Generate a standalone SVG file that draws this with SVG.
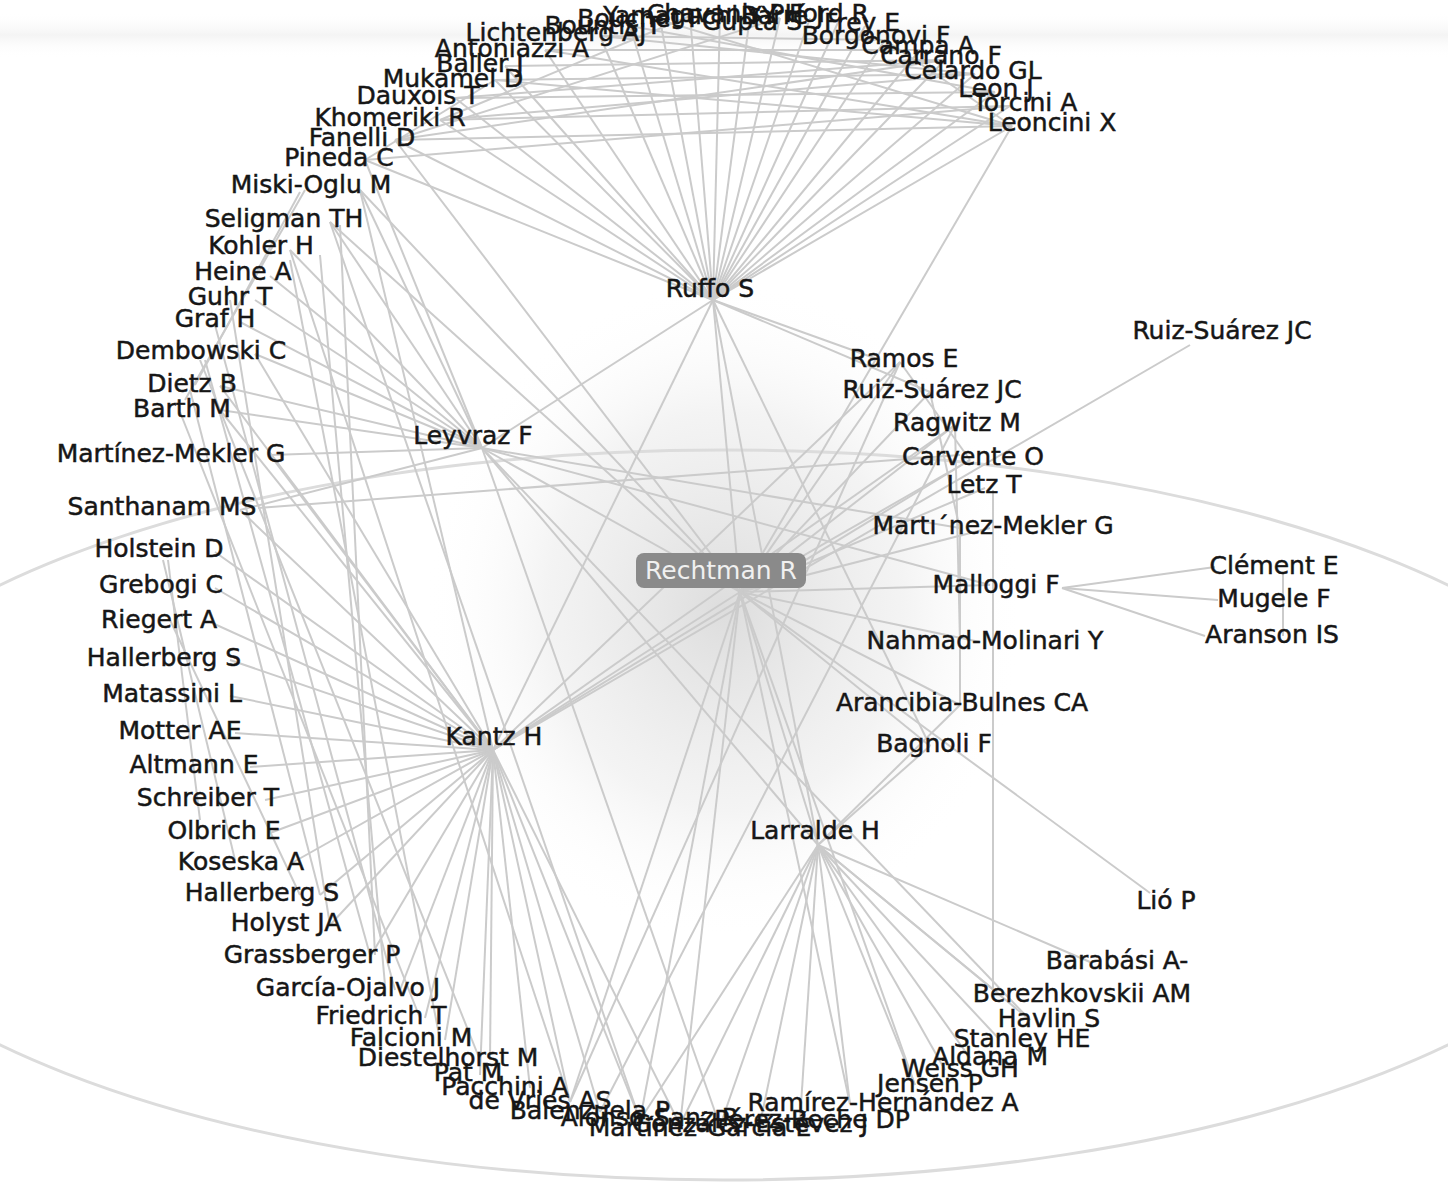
<svg xmlns="http://www.w3.org/2000/svg" width="1448" height="1185" viewBox="0 0 1448 1185">
<defs>
<radialGradient id="glow" cx="0.5" cy="0.5" r="0.5">
<stop offset="0" stop-color="#d9d9d9" stop-opacity="0.9"/>
<stop offset="0.6" stop-color="#ececec" stop-opacity="0.6"/>
<stop offset="1" stop-color="#ffffff" stop-opacity="0"/>
</radialGradient>
<linearGradient id="band" x1="0" y1="0" x2="0" y2="1">
<stop offset="0" stop-color="#ffffff" stop-opacity="0"/>
<stop offset="0.5" stop-color="#f4f4f4" stop-opacity="1"/>
<stop offset="1" stop-color="#ffffff" stop-opacity="0"/>
</linearGradient>
</defs>
<style>
.e path{stroke:#cbcbcb;stroke-width:2;fill:none}
.lbl{font-family:"DejaVu Sans","Liberation Sans",sans-serif;font-size:25px;fill:#161616;stroke:#161616;stroke-width:0.5;text-anchor:middle}
.hub{font-family:"DejaVu Sans","Liberation Sans",sans-serif;font-size:25px;fill:#f0f0f0;text-anchor:middle}
</style>
<rect width="1448" height="1185" fill="#ffffff"/>
<rect x="0" y="12" width="1448" height="46" fill="url(#band)"/>
<ellipse cx="725" cy="610" rx="300" ry="330" fill="url(#glow)"/>
<ellipse cx="724" cy="815" rx="932" ry="365" fill="none" stroke="#dcdcdc" stroke-width="3"/>
<g id="connectors" class="e">
<path d="M713 300L365 160"/><path d="M713 300L395 140"/><path d="M713 300L440 120"/><path d="M713 300L455 98"/>
<path d="M713 300L495 80"/><path d="M713 300L505 66"/><path d="M713 300L545 50"/><path d="M713 300L600 36"/>
<path d="M713 300L630 26"/><path d="M713 300L660 20"/><path d="M713 300L690 16"/><path d="M713 300L720 14"/>
<path d="M713 300L750 16"/><path d="M713 300L780 18"/><path d="M713 300L810 18"/><path d="M713 300L840 18"/>
<path d="M713 300L865 26"/><path d="M713 300L885 40"/><path d="M713 300L920 50"/><path d="M713 300L945 60"/>
<path d="M713 300L975 74"/><path d="M713 300L995 92"/><path d="M713 300L1010 106"/><path d="M713 300L1012 126"/>
<path d="M395 140L1012 126"/><path d="M440 120L1010 106"/><path d="M455 98L995 92"/><path d="M495 80L975 74"/>
<path d="M505 66L945 60"/><path d="M545 50L920 50"/><path d="M600 36L885 40"/><path d="M440 120L975 74"/>
<path d="M395 140L945 60"/><path d="M495 80L1012 126"/><path d="M455 98L945 60"/><path d="M545 50L1012 126"/>
<path d="M395 140L780 18"/><path d="M440 120L690 16"/><path d="M1012 126L660 20"/><path d="M975 74L600 36"/>
<path d="M365 160L1010 106"/><path d="M365 160L495 80"/><path d="M885 40L1012 126"/><path d="M630 26L995 92"/>
<path d="M482 448L360 190"/><path d="M482 448L330 222"/><path d="M482 448L290 250"/><path d="M482 448L270 276"/>
<path d="M482 448L255 300"/><path d="M482 448L240 322"/><path d="M482 448L255 354"/><path d="M482 448L220 386"/>
<path d="M482 448L220 410"/><path d="M482 448L270 455"/><path d="M482 448L240 510"/>
<path d="M482 448L713 300"/><path d="M482 448L960 528"/><path d="M482 448L990 585"/><path d="M482 448L818 845"/>
<path d="M482 448L720 1126"/><path d="M482 448L1030 1020"/><path d="M482 448L365 160"/>
<path d="M493 750L215 552"/><path d="M493 750L215 588"/><path d="M493 750L210 622"/><path d="M493 750L230 660"/>
<path d="M493 750L230 696"/><path d="M493 750L235 733"/><path d="M493 750L250 767"/><path d="M493 750L265 800"/>
<path d="M493 750L270 833"/><path d="M493 750L290 864"/><path d="M493 750L320 895"/><path d="M493 750L330 925"/>
<path d="M493 750L370 957"/><path d="M493 750L400 990"/><path d="M493 750L425 1018"/><path d="M493 750L445 1040"/>
<path d="M493 750L490 1060"/><path d="M493 750L480 1075"/><path d="M493 750L530 1088"/><path d="M493 750L570 1102"/>
<path d="M493 750L600 1112"/><path d="M493 750L640 1120"/><path d="M493 750L680 1125"/>
<path d="M493 750L255 354"/><path d="M493 750L220 386"/><path d="M493 750L220 410"/><path d="M493 750L270 455"/>
<path d="M493 750L240 510"/><path d="M493 750L360 190"/>
<path d="M493 750L955 425"/><path d="M493 750L1190 345"/><path d="M493 750L970 460"/><path d="M493 750L900 362"/>
<path d="M493 750L713 300"/>
<path d="M818 845L1090 962"/><path d="M818 845L1000 995"/><path d="M818 845L1030 1020"/><path d="M818 845L1000 1040"/>
<path d="M818 845L970 1058"/><path d="M818 845L945 1070"/><path d="M818 845L915 1085"/><path d="M818 845L850 1104"/>
<path d="M818 845L800 1120"/><path d="M818 845L760 1124"/><path d="M818 845L720 1126"/><path d="M818 845L680 1125"/>
<path d="M818 845L640 1120"/>
<path d="M818 845L713 300"/><path d="M818 845L930 746"/><path d="M818 845L960 705"/>
<path d="M740 592L713 300"/><path d="M740 592L482 448"/><path d="M740 592L493 750"/><path d="M740 592L818 845"/>
<path d="M740 592L900 362"/><path d="M740 592L930 392"/><path d="M740 592L955 425"/><path d="M740 592L970 460"/>
<path d="M740 592L985 488"/><path d="M740 592L990 528"/><path d="M740 592L990 585"/><path d="M740 592L980 642"/>
<path d="M740 592L960 705"/><path d="M740 592L930 746"/><path d="M740 592L1150 893"/>
<path d="M740 592L680 1125"/><path d="M740 592L640 1120"/><path d="M740 592L570 1102"/><path d="M740 592L850 1104"/>
<path d="M740 592L915 1085"/><path d="M740 592L360 190"/><path d="M740 592L330 222"/>
<path d="M740 592L1012 126"/><path d="M740 592L395 140"/>
<path d="M1062 588L1215 567"/><path d="M1062 588L1218 600"/><path d="M1062 588L1205 636"/>
<path d="M1283 572L1283 636"/>
<path d="M930 392L960 530"/><path d="M900 362L970 460"/><path d="M955 425L960 642"/>
<path d="M960 530L960 705"/><path d="M993 490L993 995"/>
<path d="M713 300L880 360"/><path d="M713 300L930 392"/><path d="M713 300L930 746"/>
<path d="M258 508L960 455"/><path d="M955 425L600 1112"/><path d="M900 362L570 1102"/>
<path d="M305 190L185 400"/><path d="M300 192L195 385"/><path d="M320 255L385 985"/><path d="M340 225L375 955"/>
<path d="M205 360L370 955"/><path d="M215 325L395 990"/><path d="M230 300L330 925"/><path d="M190 390L320 895"/>
<path d="M180 412L420 1018"/><path d="M163 560L235 860"/><path d="M168 560L200 820"/><path d="M170 620L300 895"/>
<path d="M290 260L440 1040"/><path d="M200 360L480 1060"/><path d="M330 222L640 1120"/><path d="M290 250L570 1102"/>
</g>
<g id="n-pineda"><text class="lbl" x="339" y="166">Pineda C</text></g>
<g id="n-fanelli"><text class="lbl" x="362" y="146">Fanelli D</text></g>
<g id="n-khomeriki"><text class="lbl" x="390" y="126">Khomeriki R</text></g>
<g id="n-dauxois"><text class="lbl" x="418" y="104">Dauxois T</text></g>
<g id="n-mukamel"><text class="lbl" x="453" y="87">Mukamel D</text></g>
<g id="n-baller"><text class="lbl" x="480" y="72">Baller J</text></g>
<g id="n-antoniazzi"><text class="lbl" x="512" y="57">Antoniazzi A</text></g>
<g id="n-lichtenberg"><text class="lbl" x="556" y="41">Lichtenberg AJ</text></g>
<g id="n-bountis"><text class="lbl" x="603" y="34">Bountis T</text></g>
<g id="n-bouchet"><text class="lbl" x="640" y="27">Bouchet F</text></g>
<g id="n-yamaguchi"><text class="lbl" x="690" y="24">Yamaguchi YY</text></g>
<g id="n-chavanis"><text class="lbl" x="725" y="22">Chavanis PH</text></g>
<g id="n-gupta"><text class="lbl" x="752" y="30">Gupta S</text></g>
<g id="n-barre"><text class="lbl" x="782" y="24">Barré J</text></g>
<g id="n-ford"><text class="lbl" x="829" y="22">Ford R</text></g>
<g id="n-frey"><text class="lbl" x="862" y="31">Frey E</text></g>
<g id="n-borgonovi"><text class="lbl" x="876" y="44">Borgonovi F</text></g>
<g id="n-campa"><text class="lbl" x="918" y="54">Campa A</text></g>
<g id="n-carrano"><text class="lbl" x="941" y="64">Carrano F</text></g>
<g id="n-celardo"><text class="lbl" x="973" y="79">Celardo GL</text></g>
<g id="n-leon"><text class="lbl" x="996" y="97">Leon J</text></g>
<g id="n-torcini"><text class="lbl" x="1025" y="111">Torcini A</text></g>
<g id="n-leoncini"><text class="lbl" x="1052" y="131">Leoncini X</text></g>
<g id="n-miski"><text class="lbl" x="311" y="193">Miski-Oglu M</text></g>
<g id="n-seligman"><text class="lbl" x="284" y="227">Seligman TH</text></g>
<g id="n-kohler"><text class="lbl" x="261" y="254">Kohler H</text></g>
<g id="n-heine"><text class="lbl" x="243" y="280">Heine A</text></g>
<g id="n-guhr"><text class="lbl" x="230" y="305">Guhr T</text></g>
<g id="n-graf"><text class="lbl" x="215" y="327">Graf H</text></g>
<g id="n-dembowski"><text class="lbl" x="201" y="359">Dembowski C</text></g>
<g id="n-dietz"><text class="lbl" x="192" y="392">Dietz B</text></g>
<g id="n-barth"><text class="lbl" x="182" y="417">Barth M</text></g>
<g id="n-martinez1"><text class="lbl" x="171" y="462">Martínez-Mekler G</text></g>
<g id="n-santhanam"><text class="lbl" x="162" y="515">Santhanam MS</text></g>
<g id="n-holstein"><text class="lbl" x="159" y="557">Holstein D</text></g>
<g id="n-grebogi"><text class="lbl" x="161" y="593">Grebogi C</text></g>
<g id="n-riegert"><text class="lbl" x="159" y="628">Riegert A</text></g>
<g id="n-hallerberg1"><text class="lbl" x="164" y="666">Hallerberg S</text></g>
<g id="n-matassini"><text class="lbl" x="172" y="702">Matassini L</text></g>
<g id="n-motter"><text class="lbl" x="180" y="739">Motter AE</text></g>
<g id="n-altmann"><text class="lbl" x="194" y="773">Altmann E</text></g>
<g id="n-schreiber"><text class="lbl" x="208" y="806">Schreiber T</text></g>
<g id="n-olbrich"><text class="lbl" x="224" y="839">Olbrich E</text></g>
<g id="n-koseska"><text class="lbl" x="241" y="870">Koseska A</text></g>
<g id="n-hallerberg2"><text class="lbl" x="262" y="901">Hallerberg S</text></g>
<g id="n-holyst"><text class="lbl" x="286" y="931">Holyst JA</text></g>
<g id="n-grassberger"><text class="lbl" x="312" y="963">Grassberger P</text></g>
<g id="n-garcia"><text class="lbl" x="348" y="996">García-Ojalvo J</text></g>
<g id="n-friedrich"><text class="lbl" x="381" y="1024">Friedrich T</text></g>
<g id="n-falcioni"><text class="lbl" x="411" y="1046">Falcioni M</text></g>
<g id="n-diestelhorst"><text class="lbl" x="448" y="1066">Diestelhorst M</text></g>
<g id="n-pat"><text class="lbl" x="468" y="1081">Pat M</text></g>
<g id="n-pacchini"><text class="lbl" x="505" y="1095">Pacchini A</text></g>
<g id="n-devries"><text class="lbl" x="540" y="1109">de Vries AS</text></g>
<g id="n-balenzuela"><text class="lbl" x="590" y="1119">Balenzuela P</text></g>
<g id="n-alonso"><text class="lbl" x="650" y="1126">Alonso-Sanz R</text></g>
<g id="n-martinezg"><text class="lbl" x="700" y="1136">Martínez-García E</text></g>
<g id="n-gonzalez"><text class="lbl" x="750" y="1132">González-Estévez J</text></g>
<g id="n-perez"><text class="lbl" x="812" y="1128">Pérez-Reche DP</text></g>
<g id="n-ramirez"><text class="lbl" x="883" y="1111">Ramírez-Hernández A</text></g>
<g id="n-jensen"><text class="lbl" x="930" y="1092">Jensen P</text></g>
<g id="n-weiss"><text class="lbl" x="960" y="1077">Weiss GH</text></g>
<g id="n-aldana"><text class="lbl" x="990" y="1065">Aldana M</text></g>
<g id="n-stanley"><text class="lbl" x="1022" y="1047">Stanley HE</text></g>
<g id="n-havlin"><text class="lbl" x="1049" y="1027">Havlin S</text></g>
<g id="n-berezhkovskii"><text class="lbl" x="1082" y="1002">Berezhkovskii AM</text></g>
<g id="n-barabasi"><text class="lbl" x="1117" y="969">Barabási A-</text></g>
<g id="n-lio"><text class="lbl" x="1166" y="909">Lió P</text></g>
<g id="n-ruiz2"><text class="lbl" x="1222" y="339">Ruiz-Suárez JC</text></g>
<g id="n-ramos"><text class="lbl" x="904" y="367">Ramos E</text></g>
<g id="n-ruiz1"><text class="lbl" x="932" y="398">Ruiz-Suárez JC</text></g>
<g id="n-ragwitz"><text class="lbl" x="957" y="431">Ragwitz M</text></g>
<g id="n-carvente"><text class="lbl" x="973" y="465">Carvente O</text></g>
<g id="n-letz"><text class="lbl" x="984" y="493">Letz T</text></g>
<g id="n-martinez2"><text class="lbl" x="993" y="534">Martı´nez-Mekler G</text></g>
<g id="n-malloggi"><text class="lbl" x="996" y="593">Malloggi F</text></g>
<g id="n-nahmad"><text class="lbl" x="985" y="649">Nahmad-Molinari Y</text></g>
<g id="n-arancibia"><text class="lbl" x="962" y="711">Arancibia-Bulnes CA</text></g>
<g id="n-bagnoli"><text class="lbl" x="934" y="752">Bagnoli F</text></g>
<g id="n-clement"><text class="lbl" x="1274" y="574">Clément E</text></g>
<g id="n-mugele"><text class="lbl" x="1274" y="607">Mugele F</text></g>
<g id="n-aranson"><text class="lbl" x="1272" y="643">Aranson IS</text></g>
<g id="n-ruffo"><text class="lbl" x="710" y="297">Ruffo S</text></g>
<g id="n-leyvraz"><text class="lbl" x="473" y="444">Leyvraz F</text></g>
<g id="n-kantz"><text class="lbl" x="494" y="745">Kantz H</text></g>
<g id="n-larralde"><text class="lbl" x="815" y="839">Larralde H</text></g>
<g id="n-rechtman"><rect x="636" y="553" width="170" height="35" rx="8" fill="#8a8a8a"/><text class="hub" x="721" y="579">Rechtman R</text></g>
</svg>
